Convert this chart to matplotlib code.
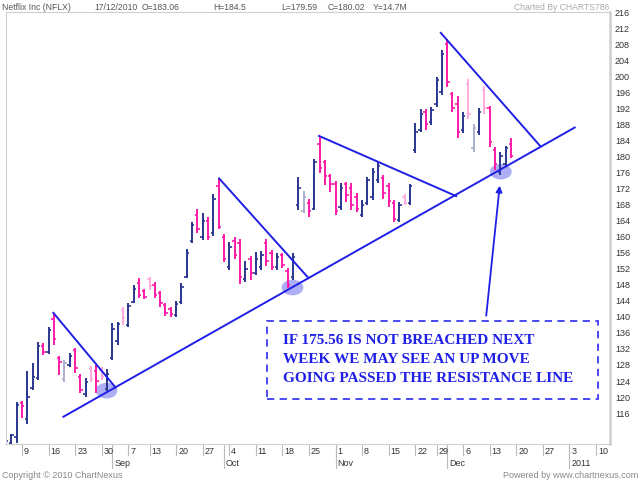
import pandas as pd
import matplotlib
matplotlib.use("Agg")
from matplotlib import pyplot as plt
from matplotlib.patches import Ellipse, Rectangle

plt.rcParams['font.family'] = ['Liberation Sans', 'DejaVu Sans']

# trading days (Labor Day and Thanksgiving closed), future weekdays after the last bar
dates = pd.bdate_range("2010-08-04", "2011-01-14")
dates = dates[~dates.isin(pd.to_datetime(["2010-09-06", "2010-11-25"]))]

opens = [108.5, 108.6, 110.0, 118.5, 114.5, 122.2, 124.8, 132.8, 131.2, 139.4,
         129.8, 124.5, 128.0, 131.8, 125.0, 120.8, 127.0, 126.5, 126.8, 122.0,
         129.8, 134.0, 141.8, 138.0, 143.8, 148.4, 146.5, 149.5, 148.0, 146.0,
         143.0, 142.0, 140.5, 143.8, 150.0, 158.8, 165.5, 160.0, 164.0, 161.0,
         172.5, 160.0, 152.5, 159.0, 158.5, 149.5, 154.5, 151.0, 152.5, 158.5,
         156.0, 152.5, 155.5, 151.5, 150.0, 168.0, 166.5, 168.5, 167.0, 183.0,
         178.5, 175.0, 173.0, 167.5, 173.0, 172.0, 170.0, 165.5, 168.5, 170.0,
         174.0, 174.5, 172.5, 168.5, 164.2, 170.0, 168.5, 181.5, 186.5, 191.0,
         188.5, 193.0, 196.0, 208.0, 195.5, 193.0, 186.5, 198.0, 182.0, 186.0,
         196.5, 192.0, 181.5, 176.0, 178.0, 183.06]
highs = [109.3, 110.8, 118.7, 119.0, 126.5, 128.5, 133.7, 133.4, 137.4, 140.9,
         130.2, 129.2, 131.0, 132.2, 125.7, 124.7, 127.7, 128.0, 127.5, 127.0,
         138.4, 138.7, 142.4, 143.4, 147.9, 149.7, 146.9, 150.0, 148.7, 146.5,
         143.5, 142.5, 143.9, 148.5, 156.9, 163.7, 167.0, 165.9, 164.9, 170.6,
         174.5, 160.6, 158.7, 159.8, 159.3, 153.9, 155.1, 156.2, 156.5, 159.3,
         156.6, 155.8, 156.0, 152.3, 155.8, 174.8, 171.4, 169.3, 179.3, 185.1,
         179.1, 175.6, 173.9, 173.3, 173.7, 173.3, 170.8, 169.1, 174.8, 177.0,
         178.7, 175.3, 173.4, 169.1, 168.7, 170.6, 173.1, 188.4, 191.7, 191.7,
         192.2, 199.9, 206.5, 209.2, 196.1, 195.0, 191.1, 199.2, 188.2, 192.0,
         197.5, 192.5, 182.4, 181.2, 182.6, 184.5]
lows = [108.3, 108.3, 108.5, 114.7, 113.2, 121.7, 124.2, 130.5, 130.7, 132.9,
        125.5, 123.7, 127.5, 126.0, 121.0, 120.0, 123.7, 121.0, 124.2, 121.5,
        129.2, 132.9, 137.9, 137.4, 143.4, 144.6, 144.4, 146.8, 144.6, 142.5,
        140.2, 140.0, 140.0, 143.3, 149.6, 158.3, 160.8, 159.1, 159.1, 160.1,
        161.8, 153.7, 151.7, 154.3, 148.3, 148.7, 149.2, 150.4, 151.7, 152.6,
        151.7, 151.7, 152.3, 147.1, 149.2, 166.6, 165.8, 164.9, 166.6, 175.8,
        172.8, 171.2, 165.4, 166.6, 168.7, 166.6, 166.2, 164.9, 167.9, 169.1,
        173.3, 169.5, 167.4, 163.7, 163.7, 167.9, 167.9, 180.8, 186.1, 186.6,
        187.8, 192.4, 195.3, 197.4, 191.1, 184.5, 185.9, 189.2, 181.2, 185.3,
        190.6, 182.4, 176.6, 175.4, 177.4, 179.59]
closes = [109.0, 110.5, 118.0, 117.7, 120.1, 125.0, 132.8, 131.2, 136.8, 134.5,
          128.7, 128.4, 130.2, 127.2, 121.8, 123.8, 124.5, 124.0, 124.9, 125.8,
          137.0, 138.2, 139.8, 142.8, 147.0, 145.5, 145.0, 147.8, 145.5, 143.5,
          141.0, 140.6, 143.2, 147.5, 156.0, 163.0, 162.0, 164.0, 160.0, 169.5,
          162.5, 154.5, 157.5, 155.5, 150.0, 152.0, 151.0, 154.5, 155.5, 153.8,
          152.5, 155.0, 153.0, 148.0, 155.0, 172.0, 170.0, 166.5, 178.5, 177.0,
          175.0, 173.0, 166.5, 172.0, 170.5, 168.0, 167.0, 168.0, 174.0, 176.0,
          177.5, 171.0, 169.0, 164.5, 168.0, 168.5, 172.5, 186.0, 190.5, 188.0,
          191.5, 199.0, 205.5, 198.5, 192.0, 186.0, 190.0, 190.5, 187.0, 191.0,
          192.0, 183.5, 178.0, 180.0, 182.0, 180.02]

y_ticks = list(range(116, 217, 4))

# hand-drawn annotations: (trading day index, price)
support_line = ([10.8, 107.0], [115.1, 187.2])
resist_lines = [([8.9, 20.6], [141.0, 122.4]),
                ([40.1, 56.9], [174.5, 149.7]),
                ([58.9, 84.7], [185.1, 170.1]),
                ([81.8, 100.5], [210.8, 182.6])]
touch_points = [(18.9, 121.6), (53.9, 147.3), (93.1, 176.2)]
note_lines = ["IF 175.56 IS NOT BREACHED NEXT",
              "WEEK WE MAY SEE AN UP MOVE",
              "GOING PASSED THE RESISTANCE LINE"]
header = ["Netflix Inc (NFLX)", "17/12/2010", "O=183.06", "H=184.5",
          "L=179.59", "C=180.02", "Y=14.7M"]

fig = plt.figure(figsize=(6.4, 4.8), dpi=100)
ax = fig.add_axes([5.5 / 640, 36 / 480, 604 / 640, 432 / 480])
ax.set_xlim(-0.1, 113.55)
ax.set_ylim(108.3, 216)

# OHLC bars
for i in range(len(closes)):
    prev = closes[i - 1] if i > 0 else opens[i]
    if closes[i] < opens[i]:
        col = '#ff1aa8' if closes[i] < prev else '#ffaade'
    else:
        col = '#2a3590' if closes[i] > prev else '#a9b0cc'
    ax.vlines(i, lows[i], highs[i], color=col, lw=1.4)
    ax.hlines(opens[i], i - 0.45, i, color=col, lw=1.2)
    ax.hlines(closes[i], i, i + 0.45, color=col, lw=1.2)

blue = '#1f1fe6'
ax.plot(support_line[0], support_line[1], color=blue, lw=1.4)
for xs, ys in resist_lines:
    ax.plot(xs, ys, color=blue, lw=1.4)
for cx, cy in touch_points:
    ax.add_patch(Ellipse((cx, cy), 4.1, 3.9, color='#6c6cee', alpha=0.55, lw=0))

ax.annotate("", xy=(92.95, 173.4), xytext=(90.3, 139.6),
            arrowprops=dict(arrowstyle='-|>', color=blue, lw=1.3, mutation_scale=9))
ax.add_patch(Rectangle((49.1, 119.6), 62.3, 19.4, fill=False, ec='#3a3af0',
                       lw=1.3, ls=(0, (4, 3))))
for k, line in enumerate(note_lines):
    ax.text(52.1, 134.2 - k * 4.75, line, family='Liberation Serif', weight='bold',
            fontsize=11, color=blue, va='center')

# frame and right-hand price labels
for s in ax.spines.values():
    s.set_color('#cfcfcf')
ax.spines['right'].set_linewidth(1.8)
ax.set_xticks([])
ax.yaxis.tick_right()
ax.set_yticks(y_ticks)
ax.tick_params(axis='y', length=0, pad=4, labelsize=6.5, labelcolor='#333333')

# date axis: week ticks and month separators
tr = ax.get_xaxis_transform()
for i in range(len(dates)):
    if i > 113:
        break
    d = dates[i]
    new_week = i > 0 and dates[i - 1].isocalendar()[1] != d.isocalendar()[1]
    new_month = i > 0 and dates[i - 1].month != d.month
    if new_week:
        ax.plot([i, i], [0, -0.026], transform=tr, color='#bbbbbb', lw=0.8, clip_on=False)
        ax.annotate(str(d.day), (i, 0), xycoords=tr, xytext=(2, -8),
                    textcoords='offset pixels', fontsize=6.5, color='#333333',
                    va='center', ha='left')
    if new_month:
        ax.plot([i, i], [0, -0.056], transform=tr, color='#bbbbbb', lw=0.8, clip_on=False)
        lab = str(d.year) if d.month == 1 else d.strftime('%b')
        ax.annotate(lab, (i, 0), xycoords=tr, xytext=(2, -19),
                    textcoords='offset pixels', fontsize=6.5, color='#333333',
                    va='center', ha='left')

hx = [2, 94, 142, 213, 281, 328, 373]
for x, t in zip(hx, header):
    fig.text(x / 640, 1 - 7 / 480, t, fontsize=6.2, color='#555555', va='center')
fig.text(609 / 640, 1 - 7 / 480, "Charted By CHARTS786", fontsize=6.2,
         color='#aaaaaa', va='center', ha='right')
fig.text(2 / 640, 5 / 480, "Copyright \u00a9 2010 ChartNexus", fontsize=6.5,
         color='#888888', va='center')
fig.text(638 / 640, 5 / 480, "Powered by www.chartnexus.com", fontsize=6.5,
         color='#888888', va='center', ha='right')

fig.savefig("out.png", dpi=100)
